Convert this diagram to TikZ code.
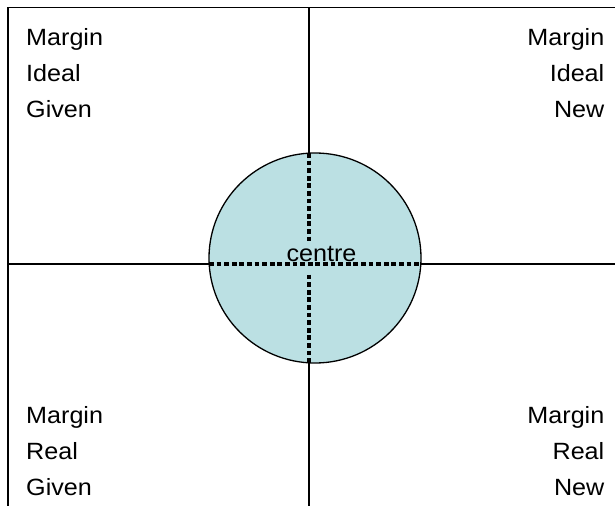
\documentclass[tikz,border=0pt]{standalone}
\usepackage{fontspec}
\usetikzlibrary{shapes.geometric}
\setmainfont[FakeStretch=1.07]{Liberation Sans}
\definecolor{circfill}{RGB}{187,224,227}
\tikzset{
  frame/.style={line width=1.2bp, black},
  dotline/.style={line width=4bp, dash pattern=on 4.8bp off 2.8bp, black},
  lbl/.style={inner sep=0pt, font=\fontsize{23.5bp}{28bp}\selectfont},
}
\begin{document}
\begin{tikzpicture}[x=1bp,y=-1bp]
\useasboundingbox (0,0) rectangle (615,506);
% frame and axes
\coordinate (tl) at (8,7.5);
\coordinate (tr) at (615,7.5);
\coordinate (bl) at (8,506);
\coordinate (vt) at (309,7.5);
\coordinate (vb) at (309,506);
\coordinate (hl) at (8,264);
\coordinate (hr) at (615,264);
\draw[frame] (tr) -- (tl) -- (bl);
\draw[frame] (vt) -- (vb);
\draw[frame] (hl) -- (hr);
% circle
\node[ellipse, draw=black, line width=1.3bp, fill=circfill, minimum width=212bp, minimum height=210bp, inner sep=0pt] (circ) at (315,258) {};
\coordinate (dt) at (309,153);
\coordinate (db) at (309,363);
\coordinate (dl) at (209,264);
\coordinate (dr) at (421,264);
\draw[dotline] (dt) -- (db);
\node[lbl, fill=circfill, text height=19bp, text depth=12bp, anchor=base] (centre) at (321.5,261) {centre};
\draw[dotline] (dl) -- (dr);
% quadrant labels
\node[lbl, anchor=base west] (a1) at (26,46) {Margin};
\node[lbl, anchor=base west] (a2) at (26,81.5) {Ideal};
\node[lbl, anchor=base west] (a3) at (26,117.5) {Given};
\node[lbl, anchor=base east] (b1) at (604.5,46) {Margin};
\node[lbl, anchor=base east] (b2) at (604.5,81.5) {Ideal};
\node[lbl, anchor=base east] (b3) at (604.5,117.5) {New};
\node[lbl, anchor=base west] (c1) at (26,423) {Margin};
\node[lbl, anchor=base west] (c2) at (26,459) {Real};
\node[lbl, anchor=base west] (c3) at (26,495) {Given};
\node[lbl, anchor=base east] (d1) at (604.5,423) {Margin};
\node[lbl, anchor=base east] (d2) at (604.5,459) {Real};
\node[lbl, anchor=base east] (d3) at (604.5,495) {New};
\end{tikzpicture}
\end{document}
